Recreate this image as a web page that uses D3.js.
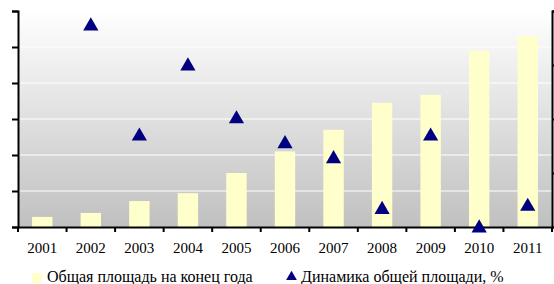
<!DOCTYPE html>
<html>
<head>
<meta charset="UTF-8">
<title>Общая площадь</title>
<script src="https://d3js.org/d3.v7.min.js"></script>
<style>
  body { margin: 0; background: #fff; }
</style>
</head>
<body>
<div id="chart"></div>
<script>
const years = ["2001","2002","2003","2004","2005","2006","2007","2008","2009","2010","2011"];
// total area at year end (left axis, 0..60)
const area = [2.8, 3.9, 7.2, 9.4, 15, 21, 27, 34.5, 36.7, 49, 53];
// growth, % (right axis, 0..200)
const growth = [null, 187, 85, 150, 101, 78, 64, 17, 85, 0, 20];
const leftTicks = [0, 10, 20, 30, 40, 50, 60];
const rightTicks = [0, 50, 100, 150, 200];

const serif = "'Liberation Serif', 'Times New Roman', 'DejaVu Serif', serif";
const W = 554, H = 284;
const m = {top: 11, right: 2, bottom: 57, left: 18};
const w = W - m.left - m.right, h = H - m.top - m.bottom;

const svg = d3.select("#chart").append("svg")
    .attr("width", W).attr("height", H);

const defs = svg.append("defs");
const grad = defs.append("linearGradient").attr("id", "bg")
    .attr("x1", 0).attr("y1", 0).attr("x2", 0).attr("y2", 1);
grad.append("stop").attr("offset", "0%").attr("stop-color", "#ffffff");
grad.append("stop").attr("offset", "100%").attr("stop-color", "#c0c0c0");

const g = svg.append("g").attr("transform", `translate(${m.left},${m.top})`);

const x = d3.scaleBand().domain(years).range([0, w]).paddingInner(0).paddingOuter(0);
const y = d3.scaleLinear().domain([0, 60]).range([h, 0]);
const y2 = d3.scaleLinear().domain([0, 200]).range([h, 0]);

g.append("rect").attr("width", w).attr("height", h).attr("fill", "url(#bg)");

// gridlines
g.selectAll(".grid").data(leftTicks.slice(1)).join("line")
    .attr("x1", 0).attr("x2", w)
    .attr("y1", d => y(d)).attr("y2", d => y(d))
    .attr("stroke", "#ffffff").attr("stroke-width", 1);

// bars
const bw = x.bandwidth() * 0.42;
g.selectAll(".bar").data(area).join("rect")
    .attr("x", (d, i) => x(years[i]) + (x.bandwidth() - bw) / 2)
    .attr("width", bw)
    .attr("y", d => y(d))
    .attr("height", d => h - y(d))
    .attr("fill", "#ffffcc");

// axes
const ax = g.append("g")
    .call(d3.axisLeft(y).tickValues(leftTicks).tickSize(6).tickFormat(""));
const ax2 = g.append("g").attr("transform", `translate(${w},0)`)
    .call(d3.axisRight(y2).tickValues(rightTicks).tickSize(3).tickFormat(""));
const xb = g.append("g").attr("transform", `translate(0,${h})`)
    .call(d3.axisBottom(x).tickSize(0).tickFormat(""));
[ax, ax2, xb].forEach(a => {
    a.select(".domain").attr("stroke", "#000").attr("stroke-width", 2);
    a.selectAll(".tick line").attr("stroke", "#000").attr("stroke-width", 2);
});
// category boundary ticks
g.append("g").selectAll("line").data(years.concat(["end"])).join("line")
    .attr("x1", (d, i) => i * x.step()).attr("x2", (d, i) => i * x.step())
    .attr("y1", h).attr("y2", h + 5)
    .attr("stroke", "#000").attr("stroke-width", 2);

// year labels
g.selectAll(".yr").data(years).join("text")
    .attr("x", d => x(d) + x.bandwidth() / 2)
    .attr("y", h + 26)
    .attr("text-anchor", "middle")
    .attr("font-family", serif)
    .attr("font-size", 15)
    .attr("fill", "#000")
    .text(d => d);

// triangles
const tri = d3.symbol().type(d3.symbolTriangle).size(100);
g.selectAll(".tri").data(growth.map((v, i) => ({v, yr: years[i]})).filter(d => d.v !== null))
    .join("path")
    .attr("d", tri)
    .attr("transform", d => `translate(${x(d.yr) + x.bandwidth() / 2},${y2(d.v) + 1})`)
    .attr("fill", "#000080");

// legend
const leg = svg.append("g").attr("font-family", serif).attr("font-size", 16).attr("fill", "#000");
leg.append("rect").attr("x", 32).attr("y", 273).attr("width", 10).attr("height", 10).attr("fill", "#ffffcc");
leg.append("text").attr("x", 47).attr("y", 282).text("Общая площадь на конец года");
leg.append("path").attr("d", d3.symbol().type(d3.symbolTriangle).size(50))
    .attr("transform", "translate(291.5,277)").attr("fill", "#000080");
leg.append("text").attr("x", 301).attr("y", 282).text("Динамика общей площади, %");
</script>
</body>
</html>
